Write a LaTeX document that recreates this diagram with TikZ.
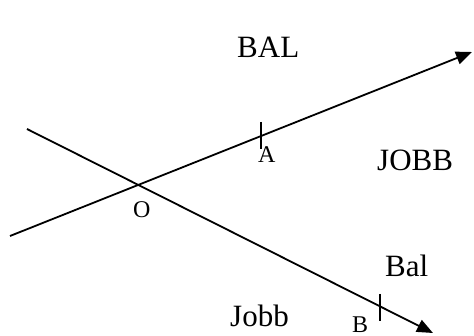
\documentclass[tikz,border=0pt]{standalone}
\usepackage{fontspec}
\setmainfont{Liberation Serif}
\usetikzlibrary{arrows.meta}
\begin{document}
\begin{tikzpicture}[x=1pt,y=-1pt,
  ray/.style={line width=1.8pt,-{Triangle[length=16pt,width=13pt]}},
  tick/.style={line width=1.8pt},
  big/.style={anchor=base west,inner sep=0pt,font=\fontsize{31}{31}\selectfont},
  small/.style={anchor=base west,inner sep=0pt,font=\fontsize{24}{24}\selectfont}]
\useasboundingbox (0,0) rectangle (474,336);
\coordinate (s1) at (10,236);
\coordinate (e1) at (472,52);
\coordinate (s2) at (27,129);
\coordinate (e2) at (433,333);
\coordinate (ta1) at (261,122);
\coordinate (ta2) at (261,149);
\coordinate (tb1) at (380,294);
\coordinate (tb2) at (380,321);
\draw[ray] (s1) -- (e1);
\draw[ray] (s2) -- (e2);
\draw[tick] (ta1) -- (ta2);
\draw[tick] (tb1) -- (tb2);
\node[big] (bal1) at (237,58) {BAL};
\node[big] (jobb1) at (377,171) {JOBB};
\node[big] (bal2) at (385,277) {Bal};
\node[big] (jobb2) at (230,327) {Jobb};
\node[small] (la) at (258,163) {A};
\node[small] (lo) at (133,218) {O};
\node[small] (lb) at (352,333) {B};
\end{tikzpicture}
\end{document}
